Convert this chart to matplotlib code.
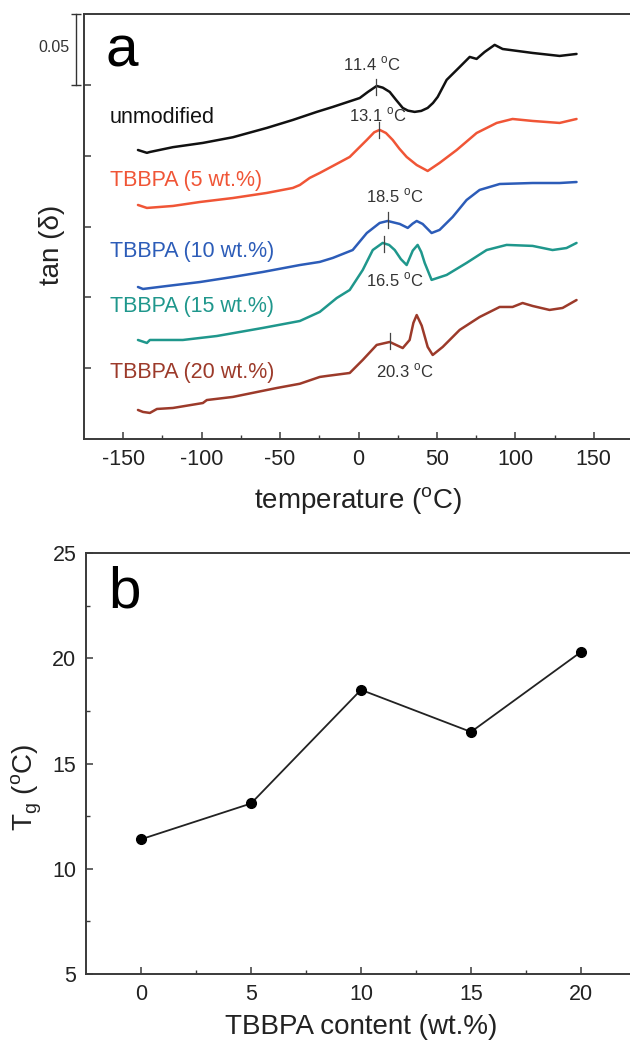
import numpy as np
import matplotlib
matplotlib.use("Agg")
import matplotlib.pyplot as plt
import matplotlib.transforms as mtransforms

plt.rcParams['font.family'] = ['Liberation Sans', 'DejaVu Sans']
plt.rcParams['axes.unicode_minus'] = False
plt.rcParams['mathtext.fontset'] = 'custom'
plt.rcParams['mathtext.rm'] = 'Liberation Sans'

# ---- panel a: tan(delta) curves, stacked with offsets ----
t_unmod = [-140.6, -134.9, -133.0, -118.3, -99.2, -80.1, -58.4, -41.9, -26.6, -16.4,
           0.8, 6.0, 11.6, 15.5, 19.9, 24.0, 28.2, 31.5, 35.8, 40.0, 44.1, 47.5, 50.5,
           56.2, 64.5, 70.9, 75.3, 80.4, 86.8, 91.9, 111.0, 128.2, 139.0]
v_unmod = [0.2040, 0.2020, 0.2026, 0.2060, 0.2090, 0.2130, 0.2196, 0.2252, 0.2309, 0.2344,
           0.2407, 0.2450, 0.2492, 0.2480, 0.2450, 0.2393, 0.2337, 0.2318, 0.2309, 0.2316,
           0.2337, 0.2372, 0.2415, 0.2535, 0.2626, 0.2697, 0.2683, 0.2732, 0.2782, 0.2753,
           0.2725, 0.2704, 0.2718]

t_5 = [-140.6, -134.9, -118.3, -101.1, -80.1, -58.4, -41.9, -37.4, -31.1, -24.7, -5.6,
       5.3, 10.0, 13.5, 17.5, 21.8, 26.0, 30.7, 37.1, 44.1, 51.7, 62.6, 75.3, 88.1, 98.2,
       111.0, 128.2, 139.0]
v_5 = [0.1652, 0.1631, 0.1645, 0.1673, 0.1701, 0.1737, 0.1772, 0.1793, 0.1843, 0.1878,
       0.1991, 0.2111, 0.2165, 0.2182, 0.2160, 0.2111, 0.2050, 0.1991, 0.1934, 0.1892,
       0.1949, 0.2040, 0.2160, 0.2231, 0.2259, 0.2245, 0.2231, 0.2259]

t_10 = [-140.6, -137.4, -122.1, -101.1, -80.1, -61.0, -37.4, -24.7, -16.4, -3.7, 5.3,
        13.5, 18.6, 26.3, 31.4, 34.5, 37.1, 40.9, 46.6, 51.7, 60.0, 68.9, 77.2, 90.0,
        111.0, 128.2, 139.0]
v_10 = [0.1073, 0.1059, 0.1080, 0.1108, 0.1144, 0.1179, 0.1228, 0.1250, 0.1278, 0.1334,
        0.1454, 0.1525, 0.1539, 0.1518, 0.1490, 0.1520, 0.1539, 0.1518, 0.1454, 0.1476,
        0.1567, 0.1687, 0.1758, 0.1800, 0.1807, 0.1807, 0.1814]

t_15 = [-140.6, -134.9, -133.0, -112.0, -90.3, -61.0, -37.4, -24.7, -13.9, -5.6, 2.7,
        9.1, 15.4, 19.5, 23.1, 27.0, 30.7, 34.6, 37.7, 40.0, 42.2, 46.6, 56.2, 68.9, 81.7,
        94.4, 111.0, 123.7, 132.6, 139.0]
v_15 = [0.0699, 0.0678, 0.0699, 0.0699, 0.0727, 0.0784, 0.0833, 0.0897, 0.0995, 0.1052,
        0.1193, 0.1334, 0.1384, 0.1370, 0.1334, 0.1270, 0.1228, 0.1330, 0.1370, 0.1320,
        0.1243, 0.1123, 0.1158, 0.1243, 0.1334, 0.1370, 0.1363, 0.1334, 0.1348, 0.1384]

t_20 = [-140.6, -137.4, -133.0, -128.5, -118.3, -99.2, -96.7, -80.1, -58.4, -52.1, -37.4,
        -24.7, -20.2, -5.6, 2.7, 11.6, 19.9, 28.2, 32.6, 35.0, 37.1, 40.3, 44.1, 47.3,
        53.7, 64.5, 77.2, 90.0, 98.2, 104.6, 111.0, 121.8, 130.1, 139.0]
v_20 = [0.0205, 0.0191, 0.0184, 0.0212, 0.0219, 0.0254, 0.0275, 0.0297, 0.0346, 0.0360,
        0.0390, 0.0438, 0.0445, 0.0466, 0.0558, 0.0664, 0.0685, 0.0642, 0.0699, 0.0820,
        0.0875, 0.0800, 0.0650, 0.0593, 0.0650, 0.0770, 0.0861, 0.0932, 0.0932, 0.0960,
        0.0939, 0.0911, 0.0925, 0.0981]

labels = ['unmodified', 'TBBPA (5 wt.%)', 'TBBPA (10 wt.%)', 'TBBPA (15 wt.%)', 'TBBPA (20 wt.%)']
colors = ['#111111', '#f05536', '#2c5cb8', '#1f978c', '#9c3a2a']
label_y = [0.2266, 0.1828, 0.1320, 0.0932, 0.0466]

# Tg marks on curves and their labels
tg_vals = [11.4, 13.1, 18.5, 16.5, 20.3]
tg_mark_y = [0.2485, 0.2180, 0.1546, 0.1377, 0.0692]
tg_text_x = [8.4, 12.3, 23.1, 23.1, 29.5]
tg_text_y = [0.2647, 0.2287, 0.1715, 0.1123, 0.0480]

# ---- panel b: Tg vs content ----
content = [0, 5, 10, 15, 20]
tg = [11.4, 13.1, 18.5, 16.5, 20.3]

fig = plt.figure(figsize=(6.30, 10.46), dpi=100)
spine_col = '#3a3a3a'
txt_col = '#222222'

ax = fig.add_axes([84 / 630, 1 - 439 / 1046, 549 / 630, 425 / 1046])
curves = [(t_unmod, v_unmod), (t_5, v_5), (t_10, v_10), (t_15, v_15), (t_20, v_20)]
for (t, v), c in zip(curves, colors):
    ax.plot(t, v, color=c, lw=1.8, solid_joinstyle='round', solid_capstyle='round')
for lab, c, y in zip(labels, colors, label_y):
    ax.text(-158.5, y, lab, color=c, fontsize=15.5, va='center', ha='left')
for x, ym, xt, yt in zip(tg_vals, tg_mark_y, tg_text_x, tg_text_y):
    ax.plot([x, x], [ym - 0.0055, ym + 0.0055], color='#444444', lw=0.9)
    ax.text(xt, yt, '%.1f $^{\\mathrm{o}}$C' % x, fontsize=12, color='#333333',
            ha='center', va='center')

ax.set_xlim(-175, 175)
ax.set_ylim(0, 0.3)
ax.set_xticks([-150, -100, -50, 0, 50, 100, 150])
ax.set_xticks(np.arange(-150, 151, 25), minor=True)
ax.set_yticks([0.05, 0.10, 0.15, 0.20, 0.25])
ax.set_yticklabels([])
ax.tick_params(direction='in', length=5, width=1.1, colors=spine_col, labelsize=15.5,
               labelcolor=txt_col, pad=7)
ax.tick_params(which='minor', direction='in', length=3, width=1.0, colors=spine_col)
ax.set_xlabel('temperature ($^{\\mathrm{o}}$C)', fontsize=20, color=txt_col, labelpad=11)
ax.set_ylabel('tan (δ)', fontsize=20, color=txt_col, va='center')
ax.yaxis.set_label_coords(-0.058, 0.456)
for s in ax.spines.values():
    s.set_color(spine_col)
    s.set_linewidth(1.4)
ax.text(0.04, 0.975, 'a', transform=ax.transAxes, fontsize=42, va='top', ha='left')

# scale bar 0.05
trans = mtransforms.blended_transform_factory(ax.transAxes, ax.transData)
ax.plot([-0.0146, -0.0146], [0.25, 0.30], transform=trans, color='#333333', lw=1.0,
        marker='_', markersize=7, mew=1.0, clip_on=False)
ax.text(-0.026, 0.276, '0.05', transform=trans, fontsize=11.5, ha='right', va='center',
        color='#333333')

# ---- panel b ----
bx = fig.add_axes([86 / 630, 1 - 974 / 1046, 550 / 630, 421 / 1046])
bx.plot(content, tg, color='#222222', lw=1.3, marker='o', markersize=7,
        markerfacecolor='black', markeredgecolor='black')
bx.set_xlim(-2.5, 22.5)
bx.set_ylim(5, 25)
bx.set_xticks([0, 5, 10, 15, 20])
bx.set_xticks(np.arange(0, 22.6, 2.5), minor=True)
bx.set_yticks([5, 10, 15, 20, 25])
bx.set_yticks([7.5, 12.5, 17.5, 22.5], minor=True)
bx.tick_params(direction='in', length=5, width=1.1, colors=spine_col, labelsize=15.5,
               labelcolor=txt_col, pad=7)
bx.tick_params(which='minor', direction='in', length=3, width=1.0, colors=spine_col)
bx.set_xlabel('TBBPA content (wt.%)', fontsize=20, color=txt_col, labelpad=7)
bx.set_ylabel('T$_{\\mathrm{g}}$ ($^{\\mathrm{o}}$C)', fontsize=20, color=txt_col, va='center')
bx.yaxis.set_label_coords(-0.107, 0.444)
for s in bx.spines.values():
    s.set_color(spine_col)
    s.set_linewidth(1.4)
bx.text(0.04, 0.97, 'b', transform=bx.transAxes, fontsize=42, va='top', ha='left')

fig.savefig('out.png', dpi=100, facecolor='white')
